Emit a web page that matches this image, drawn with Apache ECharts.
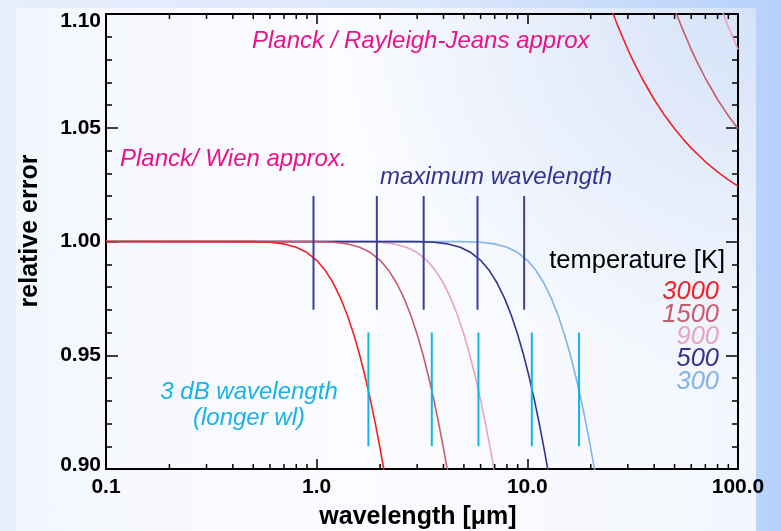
<!DOCTYPE html>
<html><head><meta charset="utf-8">
<script src="https://cdn.jsdelivr.net/npm/echarts@6/dist/echarts.min.js"></script>
<style>
html,body{margin:0;padding:0;}
#wrap{position:relative;width:781px;height:531px;overflow:hidden;
 background:linear-gradient(to right,#e6eefc 0%,#dce7fb 55%,#b6d1fa 100%);}
#panel{position:absolute;left:16px;top:8px;width:740px;height:523px;
 background:radial-gradient(ellipse 75% 95% at 100% 0%,#d4e2f8 0%,rgba(226,235,250,0.7) 40%,rgba(248,250,255,0) 75%),
 linear-gradient(to right,#f3f6fd 0%,#fbfcff 45%,#f3f6fd 100%);}
#chart{position:absolute;left:0;top:0;width:781px;height:531px;}
</style></head>
<body><div id="wrap"><div id="panel"></div><div id="chart"></div></div>
<script>
// ---- data ----
const temps = ['3000', '1500', '900', '500', '300'];
const tempColors = ['#f42028', '#c85a6e', '#e8a2bf', '#343488', '#82b4e6'];

// Planck / Wien ratio (same values on each curve, at the wavelengths below)
const wienRatio = [1.0, 0.99993, 0.99966, 0.99894, 0.99751, 0.99515, 0.99174, 0.98722, 0.98163, 0.97500,
  0.96748, 0.95912, 0.95010, 0.94045, 0.93036, 0.91987, 0.90909, 0.89813, 0.88696];
const wien3000Wl = [0.1, 0.5, 0.6, 0.7, 0.8, 0.9, 1.0, 1.1, 1.2, 1.3, 1.4, 1.5, 1.6, 1.7, 1.8, 1.9, 2.0, 2.1, 2.2];
const wien1500Wl = [0.1, 1.0, 1.2, 1.4, 1.6, 1.8, 2.0, 2.2, 2.4, 2.6, 2.8, 3.0, 3.2, 3.4, 3.6, 3.8, 4.0, 4.2, 4.4];
const wien900Wl = [0.1, 1.667, 2.0, 2.333, 2.667, 3.0, 3.333, 3.667, 4.0, 4.333, 4.667, 5.0, 5.333, 5.667, 6.0, 6.333, 6.667, 7.0, 7.333];
const wien500Wl = [0.1, 3.0, 3.6, 4.2, 4.8, 5.4, 6.0, 6.6, 7.2, 7.8, 8.4, 9.0, 9.6, 10.2, 10.8, 11.4, 12.0, 12.6, 13.2];
const wien300Wl = [0.1, 5, 6, 7, 8, 9, 10, 11, 12, 13, 14, 15, 16, 17, 18, 19, 20, 21, 22];

// Planck / Rayleigh-Jeans ratio
const rj3000Wl = [24, 25, 27, 30, 32, 35, 40, 45, 50, 55, 60, 70, 80, 90, 100];
const rj3000 = [1.10692, 1.10236, 1.09432, 1.08437, 1.07883, 1.07176, 1.06242, 1.05523, 1.04953, 1.04490, 1.04105, 1.03505, 1.03058, 1.02712, 1.02437];
const rj1500Wl = [48, 50, 54, 60, 64, 70, 80, 90, 100];
const rj1500 = [1.10692, 1.10236, 1.09432, 1.08437, 1.07883, 1.07176, 1.06242, 1.05523, 1.04953];
const rj900Wl = [80, 83.33, 90, 100];
const rj900 = [1.10692, 1.10236, 1.09432, 1.08437];

// marker lines
const maxWl = [0.966, 1.93, 3.22, 5.80, 9.66];
const maxWlRange = [0.97, 1.02];
const dbWl = [1.76, 3.52, 5.86, 10.5, 17.6];
const dbWlRange = [0.91, 0.96];

// axes
const xMin = 0.1, xMax = 100;
const yMin = 0.90, yMax = 1.10, yStep = 0.05;
const xMinorTicks = [0.2, 0.3, 0.4, 0.5, 0.6, 0.7, 0.8, 0.9, 2, 3, 4, 5, 6, 7, 8, 9, 20, 30, 40, 50, 60, 70, 80, 90];

// ---- build ----
const FONT = '"Liberation Sans", Arial, Helvetica, sans-serif';
const zip = (xs, ys) => xs.map((x, i) => [x, ys[i]]);
const wienWl = [wien3000Wl, wien1500Wl, wien900Wl, wien500Wl, wien300Wl];
const rjWl = [rj3000Wl, rj1500Wl, rj900Wl];
const rjVal = [rj3000, rj1500, rj900];

const series = [];
[4, 2, 3, 1, 0].forEach(i => {
  series.push({type: 'line', data: zip(wienWl[i], wienRatio), symbol: 'none', smooth: false,
    lineStyle: {color: tempColors[i], width: 1.6}, silent: true, clip: true});
});
[2, 1, 0].forEach(i => {
  series.push({type: 'line', data: zip(rjWl[i], rjVal[i]), symbol: 'none',
    lineStyle: {color: tempColors[i], width: 1.6}, silent: true, clip: true});
});
maxWl.forEach(w => series.push({type: 'line', data: maxWlRange.map(v => [w, v]), symbol: 'none',
  lineStyle: {color: '#3a3e9a', width: 2}, silent: true}));
dbWl.forEach(w => series.push({type: 'line', data: dbWlRange.map(v => [w, v]), symbol: 'none',
  lineStyle: {color: '#12b2ea', width: 2}, silent: true}));
series.push({
  type: 'custom', clip: false, silent: true, z: 5,
  data: xMinorTicks.map(v => [v, 1.0]),
  renderItem: (params, api) => {
    const v = api.value(0);
    const pb = api.coord([v, yMin]);
    const pt = api.coord([v, yMax]);
    const st = {stroke: '#000', lineWidth: 1.5};
    return {type: 'group', children: [
      {type: 'line', shape: {x1: pb[0], y1: pb[1], x2: pb[0], y2: pb[1] - 5}, style: st},
      {type: 'line', shape: {x1: pt[0], y1: pt[1], x2: pt[0], y2: pt[1] + 5}, style: st}
    ]};
  }
});

const axLine = {show: true, onZero: false, lineStyle: {color: '#000', width: 2}};
const lblStyle = {fontFamily: FONT, fontWeight: 'bold', fontSize: 21, color: '#000'};

const textEls = [
  {type: 'text', x: 252, y: 41, style: {text: 'Planck / Rayleigh-Jeans approx', fill: '#e8138a',
    font: 'italic 24px ' + FONT, align: 'left', verticalAlign: 'middle'}},
  {type: 'text', x: 120, y: 159, style: {text: 'Planck/ Wien approx.', fill: '#e8138a',
    font: 'italic 24px ' + FONT, align: 'left', verticalAlign: 'middle'}},
  {type: 'text', x: 380, y: 177, style: {text: 'maximum wavelength', fill: '#343490',
    font: 'italic 24px ' + FONT, align: 'left', verticalAlign: 'middle'}},
  {type: 'text', x: 725, y: 261, style: {text: 'temperature [K]', fill: '#000',
    font: '25.5px ' + FONT, align: 'right', verticalAlign: 'middle'}},
  {type: 'text', x: 249, y: 392, style: {text: '3 dB wavelength', fill: '#1ab2ea',
    font: 'italic 24px ' + FONT, align: 'center', verticalAlign: 'middle'}},
  {type: 'text', x: 249, y: 418, style: {text: '(longer wl)', fill: '#1ab2ea',
    font: 'italic 24px ' + FONT, align: 'center', verticalAlign: 'middle'}},
  {type: 'text', x: 418, y: 517, style: {text: 'wavelength [μm]', fill: '#000',
    font: 'bold 25px ' + FONT, align: 'center', verticalAlign: 'middle'}},
  {type: 'text', x: 30, y: 231, rotation: Math.PI / 2, style: {text: 'relative error', fill: '#000',
    font: 'bold 25px ' + FONT, align: 'center', verticalAlign: 'middle'}}
];
const tempY = [291.5, 314.5, 336.5, 359, 382];
temps.forEach((t, i) => textEls.push({type: 'text', x: 719, y: tempY[i], style: {text: t, fill: tempColors[i],
  font: 'italic 25.5px ' + FONT, align: 'right', verticalAlign: 'middle'}}));

const chart = echarts.init(document.getElementById('chart'), null, {renderer: 'canvas'});
chart.setOption({
  backgroundColor: 'transparent',
  animation: false,
  grid: {left: 106, right: 43, top: 14, bottom: 62, containLabel: false},
  xAxis: [
    {type: 'log', logBase: 10, min: xMin, max: xMax, position: 'bottom',
      axisLine: axLine, splitLine: {show: false},
      axisTick: {show: true, inside: true, length: 10, lineStyle: {color: '#000', width: 1.5}},
      axisLabel: Object.assign({margin: 8, formatter: v => (+v).toFixed(1)}, lblStyle)},
    {type: 'log', logBase: 10, min: xMin, max: xMax, position: 'top',
      axisLine: axLine, splitLine: {show: false},
      axisTick: {show: true, inside: true, length: 10, lineStyle: {color: '#000', width: 1.5}},
      axisLabel: {show: false}}
  ],
  yAxis: [
    {type: 'value', min: yMin, max: yMax, interval: yStep, position: 'left',
      axisLine: axLine, splitLine: {show: false},
      axisTick: {show: true, inside: true, length: 12, lineStyle: {color: '#000', width: 1.5}},
      minorTick: {show: true, splitNumber: 5, length: 6, lineStyle: {color: '#000', width: 1.5}},
      axisLabel: Object.assign({margin: 5,
        formatter: v => {
          const s = (+v).toFixed(2);
          if (Math.abs(v - yMax) < 1e-6) return '{t|' + s + '}';
          if (Math.abs(v - yMin) < 1e-6) return '{b|' + s + '}';
          return s;
        },
        rich: {
          t: Object.assign({padding: [14, 0, 0, 0]}, lblStyle),
          b: Object.assign({padding: [0, 0, 7, 0]}, lblStyle)
        }}, lblStyle)},
    {type: 'value', min: yMin, max: yMax, interval: yStep, position: 'right',
      axisLine: axLine, splitLine: {show: false},
      axisTick: {show: true, inside: true, length: 12, lineStyle: {color: '#000', width: 1.5}},
      minorTick: {show: true, splitNumber: 5, length: 6, lineStyle: {color: '#000', width: 1.5}},
      axisLabel: {show: false}}
  ],
  series: series,
  graphic: textEls
});
</script>
</body></html>
